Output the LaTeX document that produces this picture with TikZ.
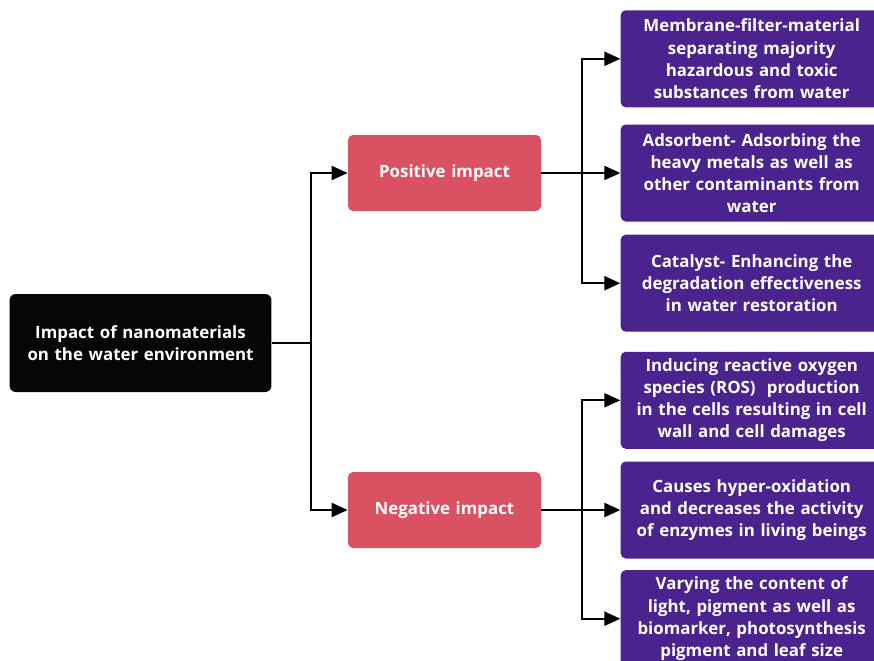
\documentclass[tikz,border=0pt]{standalone}
\usepackage{fontspec}
\setmainfont{Open Sans}
\usepackage{tikz}
\usepackage{xcolor}
\definecolor{RootBlack}{RGB}{6,6,6}
\definecolor{ImpactRed}{RGB}{218,82,98}
\definecolor{EffectPurple}{RGB}{74,35,143}
\usetikzlibrary{positioning,arrows.meta}

\begin{document}
\begin{tikzpicture}[
    rootbox/.style={rectangle, fill=RootBlack, rounded corners=0.12cm,
                minimum width=5.22cm, minimum height=1.96cm,
                text width=5cm, align=center, text=white,
                font=\bfseries\fontsize{9.6}{12.8}\selectfont},
    impactbox/.style={rectangle, fill=ImpactRed, rounded corners=0.1cm,
                minimum width=3.86cm, minimum height=1.52cm,
                text width=3.6cm, align=center, text=white,
                font=\bfseries\fontsize{9.6}{12.8}\selectfont},
    effectbox/.style={rectangle, fill=EffectPurple, rounded corners=0.1cm,
                minimum width=5.24cm, minimum height=1.94cm,
                text width=5.2cm, align=center, text=white, inner sep=0pt,
                font=\bfseries\fontsize{9.6}{12.6}\selectfont},
    arrow/.style={-{Triangle[length=3.2mm,width=2.8mm]}, line width=1.3pt}
]
    \useasboundingbox (0,0) rectangle (17.48,-13.22);

    \node[impactbox] (pos) at (8.89,-3.46) {Positive impact};
    \node[impactbox] (neg) at (8.89,-10.2) {Negative impact};
    \node[rootbox] (root) at (2.81,-6.86) {Impact of nanomaterials\\on the water environment};

    \node[effectbox, right=1.58cm of pos] (filter) {Adsorbent- Adsorbing the\\heavy metals as well as\\other contaminants from\\water};
    \node[effectbox, above=0.33cm of filter] (membrane) {Membrane-filter-material\\separating majority\\hazardous and toxic\\substances from water};
    \node[effectbox, below=0.25cm of filter] (catalyst) {Catalyst- Enhancing the\\degradation effectiveness\\in water restoration};

    \node[effectbox, right=1.58cm of neg] (oxidation) {Causes hyper-oxidation\\and decreases the activity\\of enzymes in living beings};
    \node[effectbox, above=0.24cm of oxidation] (ros) {Inducing reactive oxygen\\species (ROS)\ \ production\\in the cells resulting in cell\\wall and cell damages};
    \node[effectbox, below=0.22cm of oxidation] (pigment) {Varying the content of\\light, pigment as well as\\biomarker, photosynthesis\\pigment and leaf size};

    % branching points
    \coordinate[right=0.78cm of root.east] (rootfork);
    \coordinate[right=0.82cm of pos.east] (posfork);
    \coordinate[right=0.82cm of neg.east] (negfork);

    \draw[line width=1.3pt] (root.east) -- (rootfork);
    \draw[arrow] (rootfork) |- (pos.west);
    \draw[arrow] (rootfork) |- (neg.west);

    \draw[arrow] (pos.east) -- (filter.west);
    \draw[arrow] (posfork) |- (membrane.west);
    \draw[arrow] (posfork) |- (catalyst.west);

    \draw[arrow] (neg.east) -- (oxidation.west);
    \draw[arrow] (negfork) |- (ros.west);
    \draw[arrow] (negfork) |- (pigment.west);
\end{tikzpicture}
\end{document}
